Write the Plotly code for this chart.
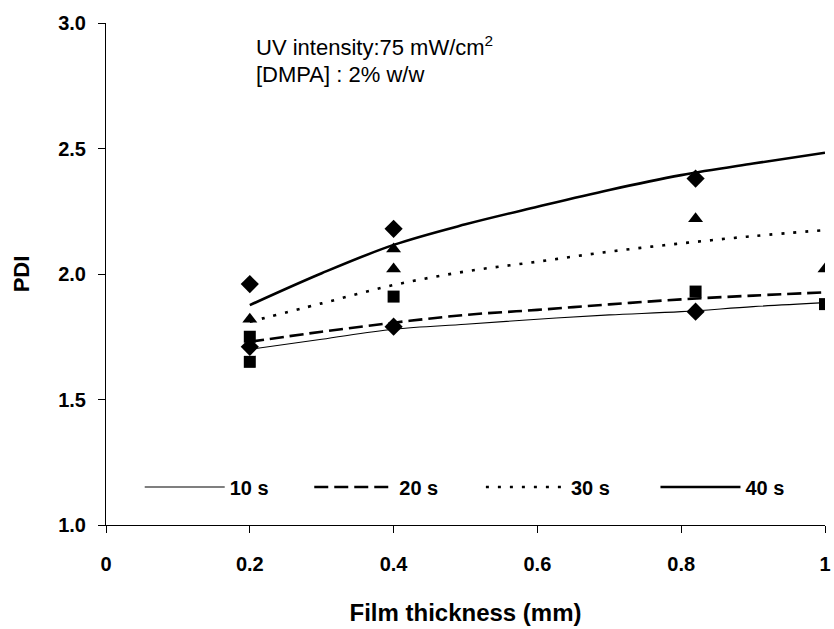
import plotly.graph_objects as go

# Fitted PDI curves vs film thickness, one per irradiation time
curve_x = [0.2, 0.3, 0.4, 0.5, 0.6, 0.7, 0.8, 0.9, 1.0]
pdi_10s = [1.70, 1.74, 1.78, 1.80, 1.82, 1.837, 1.85, 1.87, 1.886]
pdi_20s = [1.73, 1.77, 1.806, 1.837, 1.857, 1.879, 1.899, 1.914, 1.927]
pdi_30s = [1.81, 1.883, 1.956, 2.01, 2.049, 2.089, 2.122, 2.151, 2.175]
pdi_40s = [1.876, 2.003, 2.116, 2.198, 2.268, 2.335, 2.394, 2.44, 2.483]

# Measured points
pts_10s_x = [0.2, 0.4, 0.82]
pts_10s_y = [1.71, 1.79, 1.85]
pts_20s_x = [0.2, 0.2, 0.4, 0.82, 1.0]
pts_20s_y = [1.75, 1.65, 1.91, 1.93, 1.88]
pts_30s_x = [0.2, 0.4, 0.4, 0.82, 1.0]
pts_30s_y = [1.82, 2.10, 2.02, 2.22, 2.02]
pts_40s_x = [0.2, 0.4, 0.82]
pts_40s_y = [1.96, 2.18, 2.38]

series_names = ["10 s", "20 s", "30 s", "40 s"]
x_ticks = [0, 0.2, 0.4, 0.6, 0.8, 1]
x_tick_text = ["0", "0.2", "0.4", "0.6", "0.8", "1"]
y_ticks = [1.0, 1.5, 2.0, 2.5, 3.0]
y_tick_text = ["1.0", "1.5", "2.0", "2.5", "3.0"]

FONT = "Liberation Sans, Arial, sans-serif"
INK = "black"

fig = go.Figure()

# each curve gets its own single-entry legend so the entries can sit in one row
legend_ids = ["legend", "legend2", "legend3", "legend4"]
legend_x = [0.0469, 0.2827, 0.5214, 0.7642]

line_styles = [
    dict(width=1.1, dash="solid"),
    dict(width=2.6, dash="14px,6px"),
    dict(width=2.6, dash="3px,9px"),
    dict(width=2.6, dash="solid"),
]
curves = [pdi_10s, pdi_20s, pdi_30s, pdi_40s]
for name, ys, style, lid in zip(series_names, curves, line_styles, legend_ids):
    fig.add_trace(go.Scatter(
        x=curve_x, y=ys, mode="lines", name=name, legend=lid,
        line=dict(color=INK, shape="spline", smoothing=1.0, **style),
    ))

markers = [
    (pts_10s_x, pts_10s_y, "diamond", 14),
    (pts_20s_x, pts_20s_y, "square", 12),
    (pts_30s_x, pts_30s_y, "triangle-up", 13),
    (pts_40s_x, pts_40s_y, "diamond", 14),
]
for xs, ys, sym, size in markers:
    fig.add_trace(go.Scatter(
        x=xs, y=ys, mode="markers", showlegend=False, hoverinfo="skip",
        marker=dict(symbol=sym, size=size, color=INK, line=dict(width=0)),
    ))

fig.add_annotation(
    x=0.2055, y=0.954, xref="paper", yref="paper", xanchor="left", yanchor="middle",
    text="UV intensity:75 mW/cm<sup>2</sup>", showarrow=False,
    font=dict(family=FONT, size=22, color=INK),
)
fig.add_annotation(
    x=0.2055, y=0.898, xref="paper", yref="paper", xanchor="left", yanchor="middle",
    text="[DMPA] : 2% w/w", showarrow=False,
    font=dict(family=FONT, size=22, color=INK),
)

legend_common = dict(
    orientation="h", y=0.0757, xanchor="left", yanchor="middle",
    bgcolor="rgba(0,0,0,0)", borderwidth=0, itemwidth=80,
    font=dict(family=FONT, size=20, color=INK, weight="bold"),
)
legends = {lid: dict(x=lx, **legend_common) for lid, lx in zip(legend_ids, legend_x)}

fig.update_layout(
    width=834, height=629,
    margin=dict(l=106, r=3, t=23, b=104),
    paper_bgcolor="white", plot_bgcolor="white",
    font=dict(family=FONT, color=INK),
    showlegend=True,
    **legends,
    xaxis=dict(
        range=[0, 1], tickmode="array", tickvals=x_ticks, ticktext=x_tick_text,
        showgrid=False, zeroline=False, showline=True, linecolor=INK, linewidth=1,
        ticks="outside", ticklen=7, tickcolor=INK, ticklabelstandoff=14,
        ticklabeloverflow="allow",
        tickfont=dict(family=FONT, size=20, color=INK, weight="bold"),
        title=dict(text="Film thickness (mm)", standoff=30,
                   font=dict(family=FONT, size=24, color=INK, weight="bold")),
    ),
    yaxis=dict(
        range=[1.0, 3.0], tickmode="array", tickvals=y_ticks, ticktext=y_tick_text,
        showgrid=False, zeroline=False, showline=True, linecolor=INK, linewidth=1,
        ticks="outside", ticklen=7, tickcolor=INK, ticklabelstandoff=8,
        tickfont=dict(family=FONT, size=20, color=INK, weight="bold"),
        title=dict(text="PDI", standoff=22,
                   font=dict(family=FONT, size=22, color=INK, weight="bold")),
    ),
)

fig.write_html("out.html")
